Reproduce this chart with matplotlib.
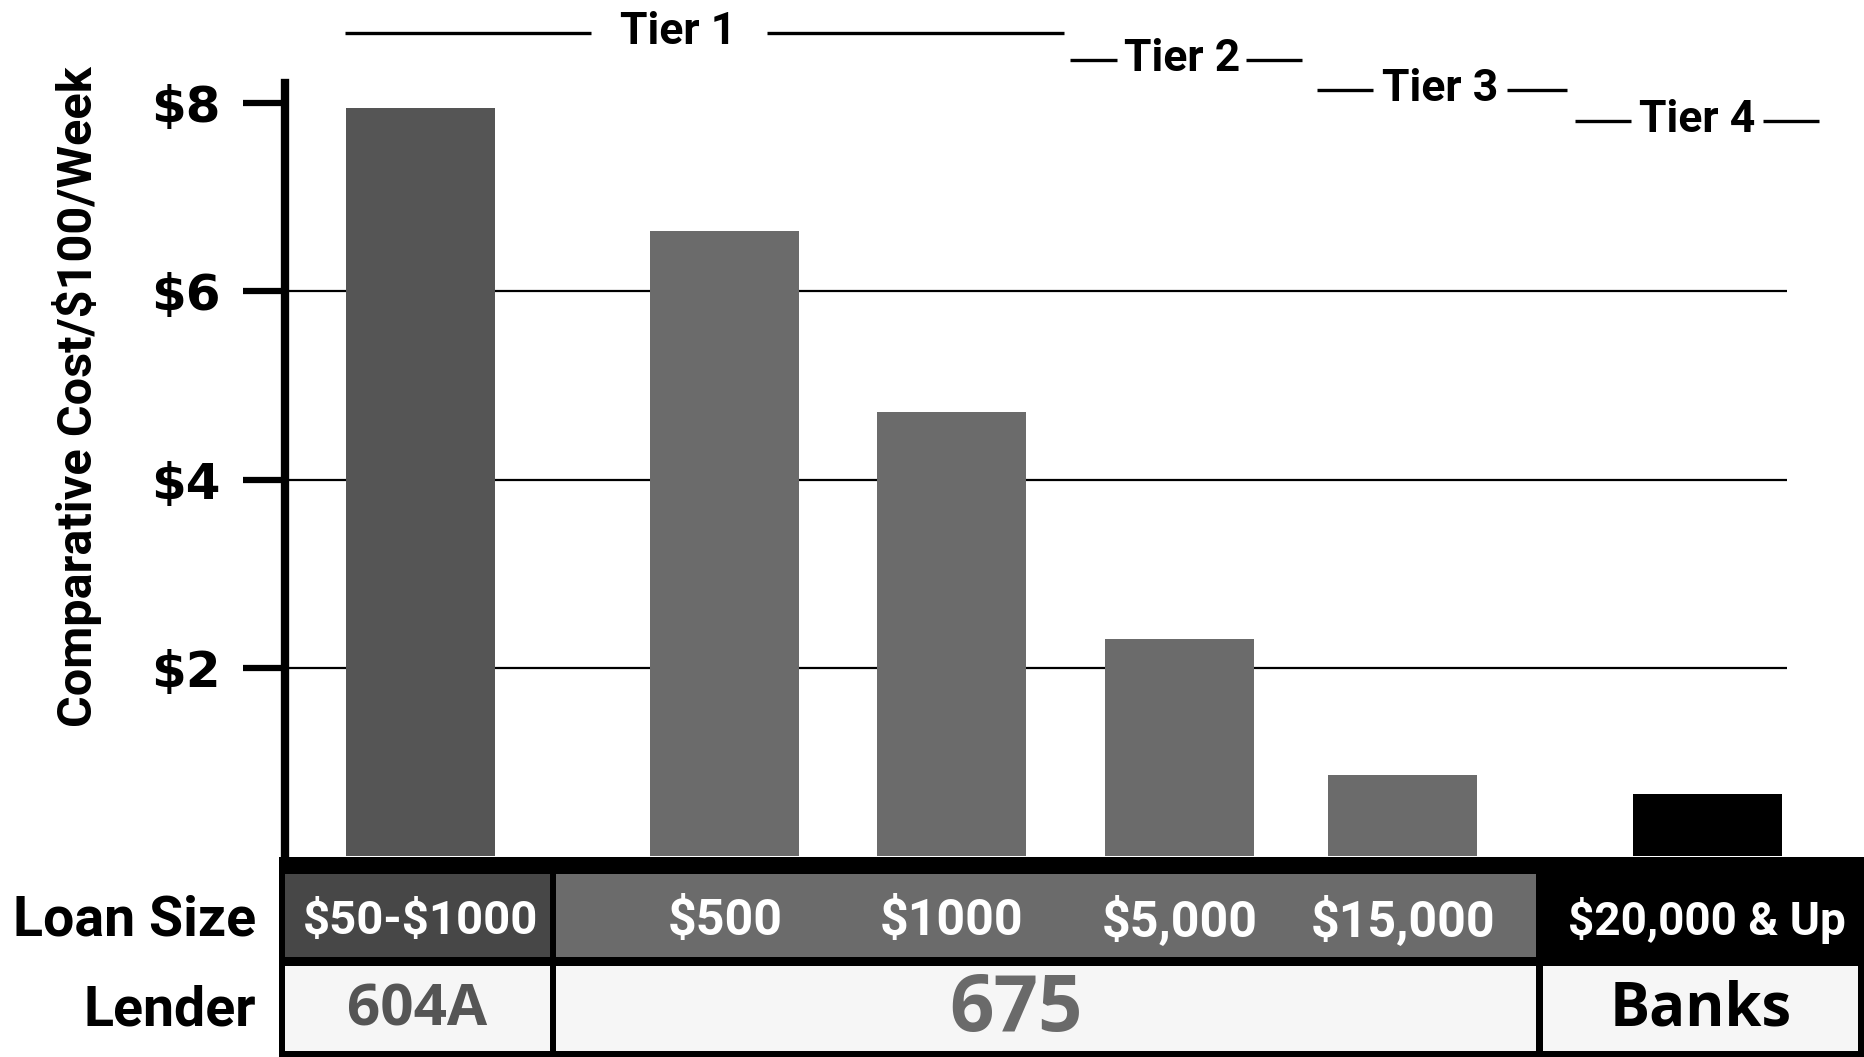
import matplotlib
matplotlib.use('Agg')
import matplotlib.pyplot as plt
from matplotlib import font_manager
from matplotlib.patches import Rectangle
from matplotlib.transforms import blended_transform_factory

plt.rcParams['text.parse_math'] = False


def pick_font(families):
    for fam in families:
        try:
            font_manager.findfont(font_manager.FontProperties(family=fam, weight='bold'),
                                  fallback_to_default=False)
            return fam
        except ValueError:
            continue
    return 'DejaVu Sans'


NARROW = pick_font(['Liberation Sans Narrow', 'Roboto'])
WIDE = pick_font(['Open Sans', 'DejaVu Sans'])

# ---------------------------------------------------------------------------
# data
loan_sizes = ['$50-$1000', '$500', '$1000', '$5,000', '$15,000', '$20,000 & Up']
cost_per_100 = [7.95, 6.64, 4.72, 2.31, 0.86, 0.66]
lenders = ['604A', '675', 'Banks']
tiers = ['Tier 1', 'Tier 2', 'Tier 3', 'Tier 4']
y_ticks = [2, 4, 6, 8]
y_ticklabels = ['$2', '$4', '$6', '$8']
y_label = 'Comparative Cost/$100/Week'

# ---------------------------------------------------------------------------
# layout / style
W, H = 1864, 1057
bar_pos = [0.60, 1.95, 2.955, 3.965, 4.955, 6.305]
bar_width = 0.66
bar_colors = ['#555555', '#6b6b6b', '#6b6b6b', '#6b6b6b', '#6b6b6b', '#000000']

# tier brackets: (left segment, right segment, label x, y in px)
tier_left = [(0.264, 1.356), (3.479, 3.69), (4.576, 4.823), (5.72, 5.967)]
tier_right = [(2.135, 3.453), (4.26, 4.507), (5.419, 5.683), (6.553, 6.80)]
tier_text_x = [1.745, 3.975, 5.119, 6.26]
tier_y = [33, 60, 90, 121]

fig = plt.figure(figsize=(W / 100, H / 100), dpi=100)
fig.patch.set_facecolor('white')

# overlay in pixel coordinates for the table and labels
ov = fig.add_axes([0, 0, 1, 1])
ov.set_xlim(0, W)
ov.set_ylim(H, 0)
ov.axis('off')

ax = fig.add_axes([285 / W, (H - 856) / H, (W - 285) / W, (856 - 83) / H])
ax.set_xlim(0, 7)
ax.set_ylim(0, (856 - 83) / 94.1)
ax.patch.set_alpha(0)

ax.hlines([2, 4, 6], 0, 6.66, colors='black', linewidth=1.6, zorder=1)
ax.bar(bar_pos, cost_per_100, width=bar_width, color=bar_colors, zorder=2)

for s in ['top', 'right', 'bottom']:
    ax.spines[s].set_visible(False)
ax.spines['left'].set_linewidth(6)
ax.set_xticks([])
ax.set_yticks(y_ticks)
ax.set_yticklabels(y_ticklabels, fontsize=36, fontweight='heavy', family='DejaVu Sans')
ax.tick_params(axis='y', length=30, width=4.5, pad=16, direction='out')

fig.text(77 / W, 1 - 397 / H, y_label, rotation=90, ha='center', va='center',
         fontsize=35, fontweight='bold', family=NARROW)

# tier brackets above the bars
tb = blended_transform_factory(ax.transData, ov.transData)
for name, (l0, l1), (r0, r1), tx, ty in zip(tiers, tier_left, tier_right, tier_text_x, tier_y):
    ov.plot([l0, l1], [ty, ty], color='black', lw=2.4, transform=tb, solid_capstyle='butt')
    ov.plot([r0, r1], [ty, ty], color='black', lw=2.4, transform=tb, solid_capstyle='butt')
    ov.text(tx, ty - 1, name, transform=tb, ha='center', va='center',
            fontsize=32, fontweight='bold', family=NARROW)

# table under the axis
ov.add_patch(Rectangle((279, 857), W - 279, H - 857, facecolor='black', edgecolor='none'))
row1_cells = [(285, 550, '#474747'), (556, 1536, '#6b6b6b'), (1543, W, '#000000')]
for x0, x1, c in row1_cells:
    ov.add_patch(Rectangle((x0, 874), x1 - x0, 957 - 874, facecolor=c, edgecolor='none'))
row2_cells = [(285, 550), (556, 1536), (1543, 1858)]
for x0, x1 in row2_cells:
    ov.add_patch(Rectangle((x0, 966), x1 - x0, 1051 - 966, facecolor='#f6f6f6', edgecolor='none'))

row1_size = [34, 36, 36, 36, 36, 33]
for x, label, fs in zip(bar_pos, loan_sizes, row1_size):
    ov.text(x, 921, label, transform=tb, ha='center', va='center', color='white',
            fontsize=fs, fontweight='bold', family=NARROW)

lender_x = [(285 + 550) / 2, 1016, (1543 + 1858) / 2]
lender_size = [42, 56, 43]
lender_color = ['#555555', '#6a6a6a', 'black']
for x, name, fs, c in zip(lender_x, lenders, lender_size, lender_color):
    ov.text(x, 1010, name, ha='center', va='center', color=c,
            fontsize=fs, fontweight='bold', family=WIDE)

ov.text(256, 920, 'Loan Size', ha='right', va='center', fontsize=40,
        fontweight='bold', family=NARROW)
ov.text(256, 1010, 'Lender', ha='right', va='center', fontsize=40,
        fontweight='bold', family=NARROW)

fig.savefig('out.png', dpi=100, facecolor='white')
